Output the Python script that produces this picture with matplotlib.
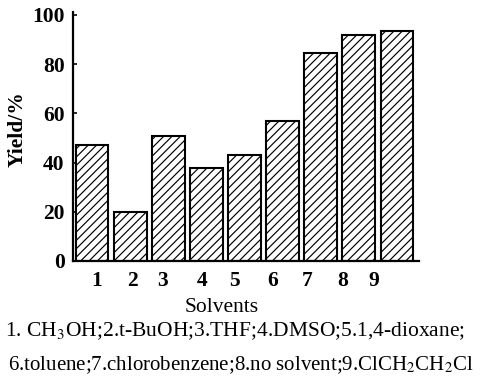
import matplotlib.pyplot as plt

plt.rcParams['font.family'] = ['Liberation Serif', 'DejaVu Serif']
plt.rcParams['mathtext.fontset'] = 'stix'
plt.rcParams['hatch.linewidth'] = 0.85

# data
solvents = [1, 2, 3, 4, 5, 6, 7, 8, 9]
yields = [47, 20, 51, 38, 43, 57, 84.5, 92, 93.5]
tick_labels = ['1', '2', '3', '4', '5', '6', '7', '8', '9']
# the printed labels sit a bit off the bar centres
label_pos = [1.13, 2.05, 2.84, 3.89, 4.73, 5.75, 6.64, 7.59, 8.40]

fs = 15.5

fig = plt.figure(figsize=(4.86, 3.79), dpi=100)
ax = fig.add_axes([73/486, 118/379, 346/486, 249/379])

ax.bar(solvents, yields, width=0.86, color='white', edgecolor='black',
       linewidth=1.5, hatch='////')

ax.set_xlim(0.5, 9.58)
ax.set_ylim(0, 101.2)
ax.set_yticks([0, 20, 40, 60, 80, 100])
ax.set_xticks(label_pos)
ax.set_xticklabels(tick_labels)

for s in ['top', 'right']:
    ax.spines[s].set_visible(False)
for s in ['left', 'bottom']:
    ax.spines[s].set_linewidth(1.6)

ax.tick_params(axis='y', direction='in', length=3, width=1.2, pad=6, labelsize=fs)
ax.tick_params(axis='x', length=0, pad=7, labelsize=fs)
for t in ax.get_xticklabels() + ax.get_yticklabels():
    t.set_fontweight('bold')

fig.text(18/486, 1 - 129/379, 'Yield/%', rotation=90, ha='center', va='center',
         fontsize=fs, fontweight='bold')

fig.text(222/486, 1 - 308/379, 'Solvents', ha='center', va='center', fontsize=fs)
fig.text(5/486, 1 - 331/379,
         r'1. CH$_3$OH;2.t-BuOH;3.THF;4.DMSO;5.1,4-dioxane;',
         ha='left', va='center', fontsize=fs)
fig.text(8/486, 1 - 365/379,
         r'6.toluene;7.chlorobenzene;8.no solvent;9.ClCH$_2$CH$_2$Cl',
         ha='left', va='center', fontsize=15.0)

fig.savefig('out.png', dpi=100)
